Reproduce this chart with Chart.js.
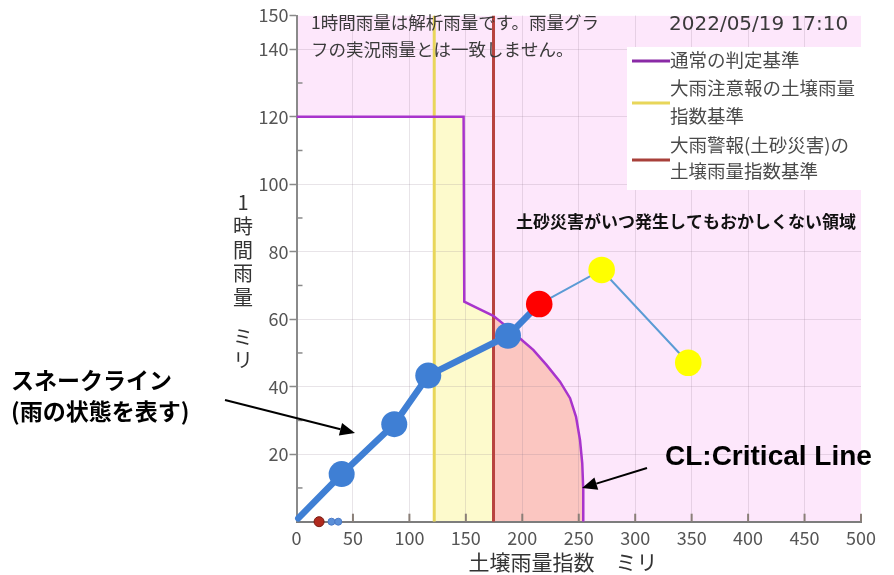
<!DOCTYPE html>
<html><head><meta charset="utf-8">
<script src="https://cdn.jsdelivr.net/npm/chart.js@4.4.0/dist/chart.umd.min.js"></script>
<style>html,body{margin:0;padding:0;background:#fff;}canvas{display:block;}</style>
</head><body>
<canvas id="c" width="894" height="575"></canvas>
<script>
// ---- data ----
const yLabelValues = [20, 40, 60, 80, 100, 120, 140, 150];
const snakeSoil = [1.6, 40.0, 86.6, 116.7, 187.3, 215.0];
const snakeRain = [1.0, 14.1, 28.9, 43.3, 55.1, 64.5];
const snakeMarkerRadius = [0, 13, 13, 13, 13, 0];
const forecastSoil = [215.0, 270.3, 347.0];
const forecastRain = [64.5, 74.6, 47.1];
const forecastColors = ['#ff0000', '#ffff00', '#ffff00'];
const pastSoil = [20, 31, 37];
const pastRain = [0, 0, 0];
const pastColors = ['#b02a1e', '#5b8fd8', '#5b8fd8'];
const pastRadius = [5, 3.5, 3.5];
const clSoil = [0, 148, 148.6, 162.5, 174.3, 186.2, 198.0, 209.7, 221.6, 233.4, 242.3, 247.6, 251.1, 253.1, 254.0, 254.0];
const clRain = [120, 120, 65.2, 62.9, 61.0, 57.8, 54.3, 50.9, 46.4, 41.5, 36.6, 31.1, 24.2, 17.3, 9.4, 0];
const advisoryLevel = 122;
const warningLevel = 174.5;
const xMax = 500, yMax = 150;

const pts = (xs, ys) => xs.map((x, i) => ({x: x, y: ys[i]}));
const clPts = pts(clSoil, clRain);
const yellowPts = clPts.filter(p => p.x <= warningLevel);
const whitePts = [{x: 0, y: clRain[0]}, {x: advisoryLevel, y: clRain[0]}];

const JP = '"Noto Sans CJK JP", sans-serif';

const region = (data, color, order) => ({
  data: data, fill: 'origin', backgroundColor: color, borderWidth: 0,
  pointRadius: 0, order: order, tension: 0
});

const overlay = {
  id: 'overlay',
  beforeDatasetsDraw(chart) {
    const ctx = chart.ctx, xs = chart.scales.x, ys = chart.scales.y;
    ctx.save();
    ctx.strokeStyle = '#8a7f78'; ctx.lineWidth = 2;
    xs.ticks.forEach(t => {
      if (t.value <= 0) return;
      const px = xs.getPixelForValue(t.value);
      ctx.beginPath(); ctx.moveTo(px, ys.bottom); ctx.lineTo(px, ys.bottom - 8); ctx.stroke();
    });
    ctx.strokeStyle = '#8a8a8a'; ctx.lineWidth = 1.5;
    ys.ticks.forEach(t => {
      if (t.value % 20 === 10 && t.value < yMax) {
        const py = ys.getPixelForValue(t.value);
        ctx.beginPath(); ctx.moveTo(xs.left, py); ctx.lineTo(xs.left + 6, py); ctx.stroke();
      }
    });
    ctx.restore();
  },
  afterDraw(chart) {
    const ctx = chart.ctx;
    ctx.save();
    ctx.textBaseline = 'middle';
    ctx.fillStyle = '#3a3a3a';
    ctx.font = '17.5px ' + JP;
    ctx.textAlign = 'left';
    ctx.fillText('1時間雨量は解析雨量です。雨量グラ', 311, 22);
    ctx.fillText('フの実況雨量とは一致しません。', 311, 49);
    ctx.font = '20px "DejaVu Sans", sans-serif';
    ctx.fillText('2022/05/19 17:10', 669, 25);

    ctx.fillStyle = '#ffffff';
    ctx.fillRect(627, 47, 234, 143);
    const sw = (color, y) => {
      ctx.strokeStyle = color; ctx.lineWidth = 3;
      ctx.beginPath(); ctx.moveTo(632, y); ctx.lineTo(670, y); ctx.stroke();
    };
    sw('#8a2aa6', 61); sw('#e8d65a', 103); sw('#a8403a', 160);
    ctx.fillStyle = '#4a4a4a';
    ctx.font = '18.5px ' + JP;
    ctx.fillText('通常の判定基準', 670, 60);
    ctx.fillText('大雨注意報の土壌雨量', 670, 88);
    ctx.fillText('指数基準', 670, 116);
    ctx.fillText('大雨警報(土砂災害)の', 670, 145);
    ctx.fillText('土壌雨量指数基準', 670, 171);

    ctx.fillStyle = '#111';
    ctx.font = 'bold 17px ' + JP;
    ctx.fillText('土砂災害がいつ発生してもおかしくない領域', 516, 222);

    ctx.fillStyle = '#000';
    ctx.font = 'bold 23px ' + JP;
    ctx.fillText('スネークライン', 11, 380);
    ctx.fillText('(雨の状態を表す)', 11, 411);
    ctx.font = 'bold 28px "Liberation Sans", Arial, sans-serif';
    ctx.fillText('CL:Critical Line', 665, 457);

    const arrow = (x1, y1, x2, y2) => {
      ctx.strokeStyle = '#000'; ctx.fillStyle = '#000'; ctx.lineWidth = 2;
      const a = Math.atan2(y2 - y1, x2 - x1), L = 15, W = 6.5;
      const bx = x2 - L * Math.cos(a), by = y2 - L * Math.sin(a);
      ctx.beginPath(); ctx.moveTo(x1, y1); ctx.lineTo(bx, by); ctx.stroke();
      ctx.beginPath(); ctx.moveTo(x2, y2);
      ctx.lineTo(bx + W * Math.sin(a), by - W * Math.cos(a));
      ctx.lineTo(bx - W * Math.sin(a), by + W * Math.cos(a));
      ctx.closePath(); ctx.fill();
    };
    arrow(225, 400, 355, 433);
    arrow(647, 468, 582, 488);

    ctx.fillStyle = '#333';
    ctx.font = '20px ' + JP;
    ctx.textAlign = 'center';
    const ych = ['1', '時', '間', '雨', '量'];
    const yy = [202, 226, 250, 273, 297];
    ych.forEach((c, i) => ctx.fillText(c, 243, yy[i]));
    ctx.fillText('ミ', 243, 337);
    ctx.fillText('リ', 243, 360);
    ctx.font = '21px ' + JP;
    ctx.fillText('土壌雨量指数　ミリ', 563, 562);
    ctx.restore();
  }
};

new Chart(document.getElementById('c'), {
  type: 'line',
  data: {
    datasets: [
      region([{x: 0, y: yMax}, {x: xMax, y: yMax}], '#fde7fb', 100),
      region(clPts, '#fbc6c1', 99),
      region(yellowPts, '#fdfacc', 98),
      region(whitePts, '#ffffff', 97),
      {data: [{x: warningLevel, y: 0}, {x: warningLevel, y: yMax}], borderColor: '#b8433e', borderWidth: 3, pointRadius: 0, fill: false, order: 21},
      {data: [{x: advisoryLevel, y: 0}, {x: advisoryLevel, y: yMax}], borderColor: '#e8d65a', borderWidth: 3, pointRadius: 0, fill: false, order: 20},
      {data: clPts, borderColor: '#a834cc', borderWidth: 2.5, pointRadius: 0, fill: false, order: 10, tension: 0},
      {data: pts(snakeSoil, snakeRain), borderColor: '#3f7fd4', borderWidth: 6.5, pointRadius: snakeMarkerRadius,
       pointBackgroundColor: '#3f7fd4', pointBorderWidth: 0, fill: false, order: 4, clip: false, borderCapStyle: 'round'},
      {data: pts(forecastSoil, forecastRain), borderColor: '#5b9bd5', borderWidth: 2, pointRadius: 13.3,
       pointBackgroundColor: forecastColors, pointBorderWidth: 0, fill: false, order: 3, clip: false},
      {data: pts(pastSoil, pastRain), showLine: false, pointRadius: pastRadius, pointBackgroundColor: pastColors,
       pointBorderColor: ['#7a1a12', '#4a7ac8', '#4a7ac8'], pointBorderWidth: 1, order: 2, clip: false}
    ]
  },
  options: {
    responsive: false,
    animation: false,
    layout: {padding: {top: 15.5, right: 33, left: 0, bottom: 0}},
    plugins: {
      legend: {display: false},
      tooltip: {enabled: false},
      filler: {drawTime: 'beforeDraw', propagate: false}
    },
    scales: {
      x: {
        type: 'linear', min: 0, max: xMax,
        ticks: {stepSize: 50, autoSkip: false, maxRotation: 0, padding: 6,
                color: '#555', font: {family: '"Noto Sans CJK JP"', size: 18}},
        grid: {drawTicks: false, lineWidth: 1,
               color: c => (c.tick && c.tick.value > 0 && c.tick.value < xMax) ? 'rgba(140,120,140,0.2)' : 'rgba(0,0,0,0)'},
        border: {display: true, color: '#7d7d7d', width: 2},
        afterFit: s => { s.height = 53.3; }
      },
      y: {
        type: 'linear', min: 0, max: yMax,
        ticks: {stepSize: 10, autoSkip: false, padding: 1, color: '#555',
                font: {family: '"Noto Sans CJK JP"', size: 18},
                callback: v => yLabelValues.includes(v) ? String(v) : ''},
        grid: {drawTicks: true, tickLength: 7, lineWidth: 1,
               color: c => (c.tick && c.tick.value % 20 === 0 && c.tick.value > 0 && c.tick.value < yMax) ? 'rgba(140,120,140,0.2)' : 'rgba(0,0,0,0)',
               tickColor: c => (c.tick && yLabelValues.includes(c.tick.value)) ? '#8a8a8a' : 'rgba(0,0,0,0)', tickWidth: 1.5},
        border: {display: true, color: '#8a8a8a', width: 2},
        afterFit: s => { s.width = 296.5; }
      }
    }
  },
  plugins: [overlay]
});
</script>
</body></html>
